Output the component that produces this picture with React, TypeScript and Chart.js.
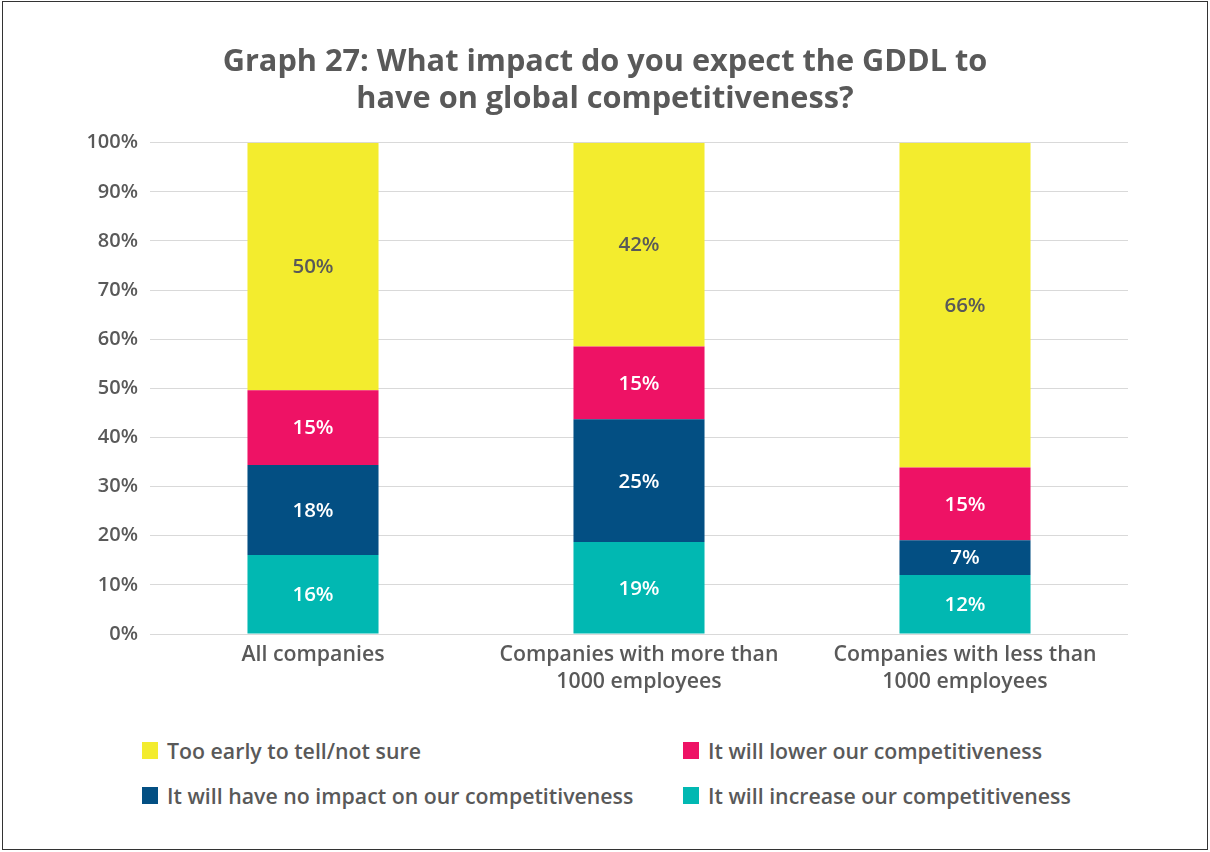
import React, { useEffect, useRef } from "react";
import { Chart, registerables } from "chart.js";

Chart.register(...registerables);

const categories: string[][] = [
  ["All companies"],
  ["Companies with more than", "1000 employees"],
  ["Companies with less than", "1000 employees"],
];
const increaseValues = [16.1, 18.7, 12.0];
const noImpactValues = [18.3, 25.0, 7.1];
const lowerValues = [15.2, 14.8, 14.8];
const tooEarlyValues = [50.4, 41.5, 66.1];
const yTicks = [0, 10, 20, 30, 40, 50, 60, 70, 80, 90, 100];

const seriesNames = {
  tooEarly: "Too early to tell/not sure",
  lower: "It will lower our competitiveness",
  noImpact: "It will have no impact on our competitiveness",
  increase: "It will increase our competitiveness",
};
const colors = {
  tooEarly: "#f3ec2e",
  lower: "#ee1265",
  noImpact: "#034f83",
  increase: "#01b8b2",
};
const TEXT = "#595959";
const FONT = "'Open Sans', 'Noto Sans', sans-serif";

const legendItems = [
  { name: seriesNames.tooEarly, color: colors.tooEarly, left: 142, top: 742 },
  { name: seriesNames.lower, color: colors.lower, left: 683, top: 742 },
  { name: seriesNames.noImpact, color: colors.noImpact, left: 142, top: 787 },
  { name: seriesNames.increase, color: colors.increase, left: 683, top: 787 },
];

const CANVAS_H = 720;

const dataLabelPlugin = {
  id: "dataLabels",
  afterDatasetsDraw(chart: any) {
    const ctx = chart.ctx;
    ctx.save();
    ctx.font = `600 20.5px ${FONT}`;
    ctx.textAlign = "center";
    ctx.textBaseline = "middle";
    chart.data.datasets.forEach((ds: any, i: number) => {
      const meta = chart.getDatasetMeta(i);
      meta.data.forEach((bar: any, j: number) => {
        const v = ds.data[j];
        const y = (bar.y + bar.base) / 2;
        ctx.fillStyle = ds.labelColor;
        ctx.fillText(Math.round(v) + "%", bar.x, y + 1);
      });
    });
    ctx.restore();
  },
};

export default function App() {
  const ref = useRef<HTMLCanvasElement | null>(null);
  useEffect(() => {
    document.body.style.margin = "0";
    const chart = new Chart(ref.current as HTMLCanvasElement, {
      type: "bar",
      data: {
        labels: categories,
        datasets: [
          { label: seriesNames.increase, data: increaseValues, backgroundColor: colors.increase, labelColor: "#ffffff" } as any,
          { label: seriesNames.noImpact, data: noImpactValues, backgroundColor: colors.noImpact, labelColor: "#ffffff" } as any,
          { label: seriesNames.lower, data: lowerValues, backgroundColor: colors.lower, labelColor: "#ffffff" } as any,
          { label: seriesNames.tooEarly, data: tooEarlyValues, backgroundColor: colors.tooEarly, labelColor: TEXT } as any,
        ],
      },
      options: {
        animation: false,
        responsive: false,
        devicePixelRatio: 1,
        layout: { padding: { left: 0, right: 0, top: 0, bottom: 0 } },
        datasets: { bar: { categoryPercentage: 1, barPercentage: 0.402 } },
        plugins: {
          legend: { display: false },
          tooltip: { enabled: false },
          title: {
            display: true,
            text: ["Graph 27: What impact do you expect the GDDL to", "have on global competitiveness?"],
            color: TEXT,
            font: { family: FONT, size: 30.7, weight: "bold", lineHeight: 1.2 },
            padding: { top: 44, bottom: 25 },
          },
        },
        scales: {
          x: {
            stacked: true,
            grid: { display: false, drawTicks: false },
            border: { display: false },
            ticks: {
              color: TEXT,
              font: { family: FONT, size: 21.3, weight: 600, lineHeight: 1.25 },
              padding: 8,
              maxRotation: 0,
              autoSkip: false,
            },
            afterFit(scale: any) {
              scale.height = CANVAS_H - 634;
            },
          },
          y: {
            stacked: true,
            min: 0,
            max: 100,
            afterBuildTicks(scale: any) {
              scale.ticks = yTicks.map((v) => ({ value: v }));
            },
            grid: { color: "#d9d9d9", lineWidth: 1, drawTicks: false },
            border: { display: false },
            ticks: {
              color: TEXT,
              font: { family: FONT, size: 20, weight: 600 },
              padding: 12,
              callback: (v: any) => v + "%",
            },
            afterFit(scale: any) {
              scale.width = 150;
            },
          },
          spacer: {
            type: "linear",
            position: "right",
            display: true,
            grid: { display: false, drawTicks: false },
            border: { display: false },
            ticks: { display: false },
            afterFit(scale: any) {
              scale.width = 82;
            },
          },
        },
      } as any,
      plugins: [dataLabelPlugin],
    });
    return () => chart.destroy();
  }, []);

  return (
    <div style={{ position: "relative", width: 1210, height: 852, background: "#fff", fontFamily: FONT }}>
      <canvas ref={ref} width={1210} height={CANVAS_H} style={{ position: "absolute", left: 0, top: 0, width: 1210, height: CANVAS_H }} />
      {legendItems.map((it) => (
        <div key={it.name} style={{ position: "absolute", left: it.left, top: it.top, display: "flex", alignItems: "center", height: 17, whiteSpace: "nowrap" }}>
          <span style={{ display: "inline-block", width: 16, height: 17, background: it.color, marginRight: 9 }} />
          <span style={{ fontSize: 21.3, fontWeight: 600, color: TEXT, lineHeight: "17px" }}>{it.name}</span>
        </div>
      ))}
      <div style={{ position: "absolute", left: 2, top: 1, width: 1206, height: 849, border: "1px solid #333", boxSizing: "border-box", pointerEvents: "none" }} />
    </div>
  );
}
